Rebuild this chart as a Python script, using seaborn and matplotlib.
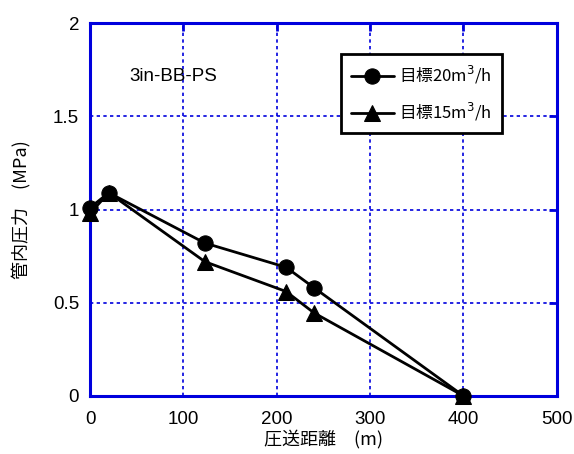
import matplotlib
matplotlib.use("Agg")
import matplotlib.pyplot as plt
import seaborn as sns
import pandas as pd

sns.set_style("white")
plt.rcParams['font.family'] = ['Noto Sans CJK JP', 'DejaVu Sans']
plt.rcParams['text.color'] = 'black'
plt.rcParams['axes.labelcolor'] = 'black'

distance_20 = [0, 20, 123, 210, 240, 400]
pressure_20 = [1.01, 1.09, 0.82, 0.69, 0.58, 0.0]
distance_15 = [0, 20, 123, 210, 240, 400]
pressure_15 = [0.98, 1.09, 0.72, 0.56, 0.445, 0.0]
series_names = ["目標20m$^3$/h", "目標15m$^3$/h"]

x_ticks = [0, 100, 200, 300, 400, 500]
y_ticks = [0, 0.5, 1.0, 1.5, 2.0]
y_tick_labels = ["0", "0.5", "1", "1.5", "2"]

fig = plt.figure(figsize=(5.74, 4.54), dpi=100)
ax = fig.add_axes([0.157, 0.128, 0.813, 0.821])

blue = "#0000dd"
ax.set_xlim(0, 500)
ax.set_ylim(0, 2)
ax.set_xticks(x_ticks)
ax.set_yticks(y_ticks)
ax.set_yticklabels(y_tick_labels)
ax.grid(True, color=blue, linestyle=(0, (2, 2)), linewidth=1.2)
ax.set_axisbelow(True)

df20 = pd.DataFrame({"x": distance_20, "y": pressure_20})
df15 = pd.DataFrame({"x": distance_15, "y": pressure_15})
sns.lineplot(data=df20, x="x", y="y", ax=ax, sort=False, color="black",
             marker="o", markersize=11, linewidth=2, markeredgecolor="black",
             label=series_names[0], clip_on=False, zorder=5)
sns.lineplot(data=df15, x="x", y="y", ax=ax, sort=False, color="black",
             marker="^", markersize=11, linewidth=2, markeredgecolor="black",
             label=series_names[1], clip_on=False, zorder=4)

for s in ax.spines.values():
    s.set_color(blue)
    s.set_linewidth(2.2)

ax.tick_params(axis="both", which="both", direction="in", length=6, width=2,
               color=blue, top=True, right=True, pad=8, labelcolor="black")
ax.tick_params(axis="x", pad=11)
for lbl in ax.get_xticklabels() + ax.get_yticklabels():
    lbl.set_family(["Liberation Sans"])
    lbl.set_fontsize(13.5)

ax.set_xlabel("圧送距離　(m)", fontsize=13, labelpad=1)
ax.set_ylabel("管内圧力　(MPa)", fontsize=13, labelpad=15)

ax.text(0.085, 0.845, "3in-BB-PS", transform=ax.transAxes, fontsize=13.5,
        family=["Liberation Sans"], color="black")

leg = ax.legend(loc="upper left", bbox_to_anchor=(0.537, 0.917), frameon=True,
                fancybox=False, edgecolor="black", fontsize=12,
                handlelength=2.6, borderpad=0.6, labelspacing=0.9,
                handletextpad=0.3, borderaxespad=0)
leg.get_frame().set_linewidth(2)
leg.get_frame().set_facecolor("white")
leg.get_frame().set_alpha(1)
for t in leg.get_texts():
    t.set_color("black")

fig.savefig("out.png", dpi=100)
